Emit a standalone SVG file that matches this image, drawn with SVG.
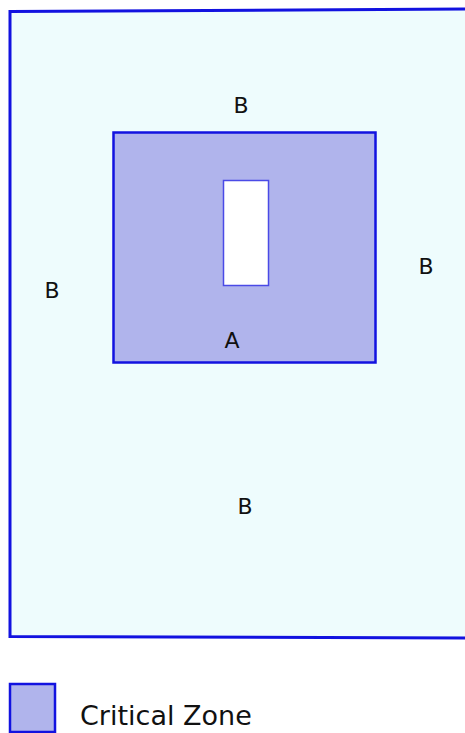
<svg xmlns="http://www.w3.org/2000/svg" width="465" height="733" viewBox="0 0 465 733">
<style>
text{font-family:"DejaVu Sans","Noto Sans",sans-serif;fill:#111;}
.lbl{font-size:22px;text-anchor:middle;}
.crit{fill:#b0b4ec;stroke:#1212e0;stroke-width:2.5;}
</style>
<g id="outer"><path d="M10,11.5 L470,9 L470,638 L10,636.5 Z" fill="#eefcfd" stroke="#1212e0" stroke-width="3"/></g>
<g id="critical-zone"><rect class="crit" x="113.5" y="132.5" width="262" height="230"/></g>
<g id="hole"><rect x="223.5" y="180.5" width="45" height="105" fill="#ffffff" stroke="#4a4ae6" stroke-width="1.5"/></g>
<g id="labels">
<text class="lbl" x="241" y="113">B</text>
<text class="lbl" x="52" y="298">B</text>
<text class="lbl" x="426" y="274">B</text>
<text class="lbl" x="245" y="514">B</text>
<text class="lbl" x="232" y="348">A</text>
</g>
<g id="legend">
<rect class="crit" x="10" y="684" width="45" height="48"/>
<text x="80" y="725" font-size="27">Critical Zone</text>
</g>
<g id="connectors"/>
</svg>
